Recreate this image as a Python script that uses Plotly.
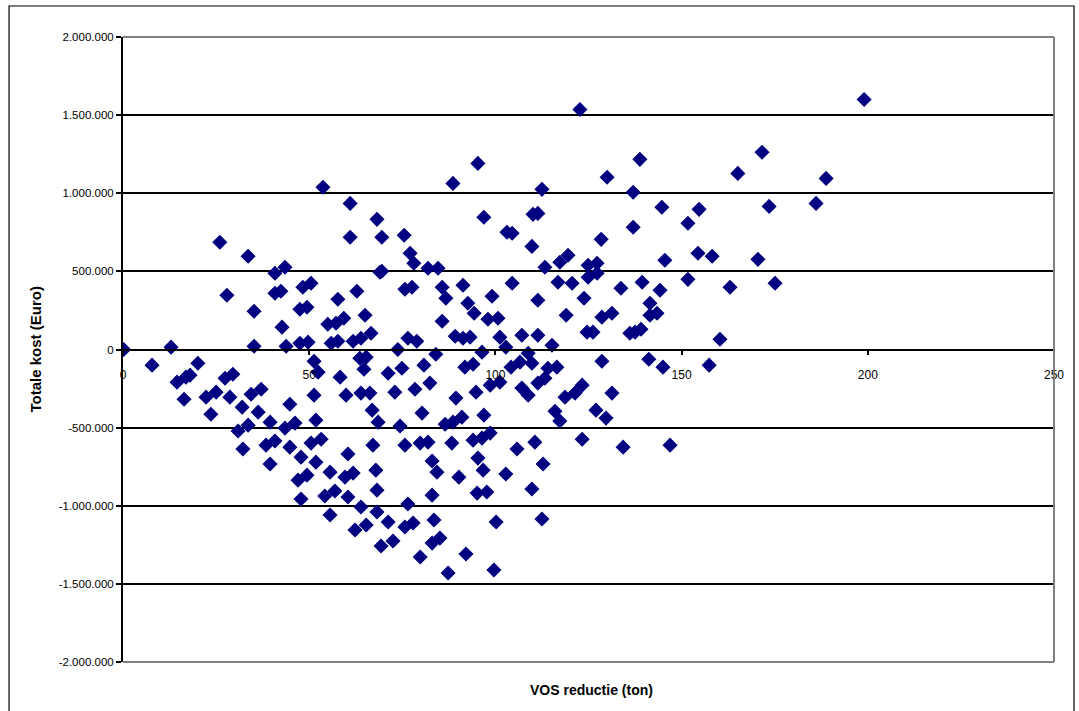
import plotly.graph_objects as go

# VOS reductie (ton) / Totale kost (Euro), grouped by region
vos_upper = [122.7, 199.0, 171.6, 138.8, 95.3, 130.0, 165.1, 188.8, 88.6, 112.5,
             53.7, 137.0, 186.1, 61.0, 144.7, 173.5, 154.7, 151.7, 96.9, 68.2,
             110.1, 111.4, 69.5, 75.5, 103.1, 104.5, 109.8, 128.4, 137.0, 77.1,
             119.5, 61.0, 26.0, 33.6, 154.4, 158.2]
kost_upper = [1536000, 1600000, 1262000, 1217000, 1191000, 1102000, 1127000, 1095000, 1063000, 1025000,
              1038000, 1006000, 935000, 935000, 910000, 916000, 897000, 808000, 846000, 833000,
              865000, 871000, 718000, 731000, 750000, 744000, 660000, 705000, 782000, 616000,
              603000, 718000, 686000, 597000, 616000, 597000]

vos_left = [40.8, 43.5, 69.0, 27.9, 40.8, 42.4, 48.3, 50.5, 57.7, 62.8,
            35.2, 47.5, 49.4, 55.0, 57.2, 59.3, 65.0, 42.7, 61.8, 63.9,
            66.6, 0.2, 12.9, 35.2, 43.8, 47.5, 49.7, 55.9, 57.7, 7.8,
            20.1, 14.5, 16.9, 18.0, 51.3, 52.4, 63.6, 65.3, 64.7, 27.4,
            29.5, 58.3, 16.4, 22.3, 25.0, 28.7, 34.4, 37.1, 32.0, 36.3,
            44.8, 51.3, 59.9, 63.9, 66.3, 23.6, 66.9]
kost_left = [488000, 526000, 494000, 347000, 360000, 373000, 398000, 424000, 322000, 373000,
             245000, 258000, 270000, 162000, 168000, 200000, 219000, 143000, 53000, 72000,
             104000, 0, 15000, 21000, 21000, 40000, 47000, 40000, 53000, -100000,
             -88000, -209000, -177000, -164000, -75000, -145000, -56000, -49000, -126000, -184000,
             -158000, -177000, -318000, -305000, -273000, -305000, -286000, -254000, -369000, -401000,
             -350000, -292000, -292000, -279000, -279000, -414000, -388000]

vos_lowleft = [30.9, 33.6, 39.5, 43.5, 46.2, 51.8, 32.2, 38.4, 40.8, 44.8,
               50.5, 53.2, 39.5, 47.8, 51.8, 60.4, 67.1, 55.6, 47.0, 49.4,
               59.6, 61.8, 67.9, 47.8, 54.2, 56.9, 60.4, 63.9, 68.2, 55.6,
               62.3, 65.3, 68.2, 69.3]
kost_lowleft = [-522000, -484000, -465000, -503000, -471000, -452000, -637000, -612000, -586000, -625000,
                -599000, -574000, -733000, -689000, -721000, -669000, -612000, -785000, -836000, -804000,
                -817000, -791000, -772000, -957000, -938000, -906000, -944000, -1008000, -900000, -1059000,
                -1155000, -1123000, -1040000, -1258000]

vos_mid = [78.1, 69.5, 81.9, 84.6, 113.3, 117.3, 124.9, 127.3, 124.9, 127.3,
           75.7, 77.6, 85.7, 91.3, 104.5, 116.8, 120.6, 133.7, 86.7, 99.1,
           111.4, 123.8, 92.6, 94.3, 98.0, 100.7, 119.0, 128.6, 131.3, 85.7,
           89.2, 91.3, 93.2, 76.5, 78.9, 101.2, 107.1, 111.4, 115.2, 124.6,
           126.2, 136.1, 73.8, 84.0, 96.4, 102.8, 108.8, 109.8, 114.1, 116.5,
           128.6, 71.2, 74.9, 80.8, 91.8, 94.0, 104.2, 106.6, 113.3, 73.0,
           78.4, 82.4, 98.6, 101.2, 107.1, 111.4, 123.3, 131.3, 89.4, 94.8,
           108.8, 118.7, 121.4, 80.3, 116.0, 127.0]
kost_mid = [552000, 501000, 520000, 520000, 526000, 558000, 539000, 552000, 462000, 488000,
            386000, 398000, 398000, 411000, 424000, 430000, 424000, 392000, 328000, 341000,
            315000, 328000, 296000, 232000, 194000, 200000, 219000, 207000, 232000, 181000,
            85000, 72000, 79000, 72000, 53000, 79000, 91000, 91000, 27000, 111000,
            111000, 104000, 0, -30000, -17000, 15000, -24000, -88000, -120000, -113000,
            -75000, -152000, -120000, -100000, -113000, -94000, -113000, -81000, -184000, -273000,
            -254000, -215000, -228000, -209000, -247000, -215000, -228000, -279000, -311000, -273000,
            -292000, -305000, -279000, -407000, -395000, -388000]

vos_right = [145.5, 170.5, 139.4, 151.7, 144.2, 163.0, 175.1, 141.5, 141.5, 143.4,
             137.5, 139.1, 160.3, 141.2, 145.0, 157.4]
kost_right = [571000, 577000, 430000, 449000, 379000, 398000, 424000, 296000, 219000, 232000,
              111000, 130000, 66000, -62000, -113000, -100000]

vos_low = [68.5, 74.4, 86.5, 88.6, 91.0, 96.9, 117.3, 129.7, 75.7, 79.8,
           81.9, 88.3, 94.0, 96.4, 98.6, 105.8, 110.6, 123.3, 134.3, 146.9,
           83.0, 84.3, 90.2, 95.3, 96.7, 102.8, 112.8, 83.0, 95.1, 97.7,
           109.8, 76.5, 71.2, 75.7, 77.9, 83.5, 100.2, 112.5, 72.5, 83.0,
           85.1, 79.8, 92.1, 87.3, 99.6]
kost_low = [-465000, -490000, -478000, -465000, -433000, -420000, -458000, -439000, -612000, -599000,
            -593000, -599000, -580000, -567000, -535000, -637000, -593000, -574000, -625000, -612000,
            -714000, -785000, -817000, -695000, -772000, -797000, -733000, -932000, -919000, -912000,
            -893000, -989000, -1104000, -1136000, -1110000, -1091000, -1104000, -1085000, -1226000, -1239000,
            -1207000, -1328000, -1309000, -1430000, -1411000]

x_ticks = [0, 50, 100, 150, 200, 250]
y_ticks = [-2000000, -1500000, -1000000, -500000, 0, 500000, 1000000, 1500000, 2000000]
y_ticktext = ["-2.000.000", "-1.500.000", "-1.000.000", "-500.000", "0",
              "500.000", "1.000.000", "1.500.000", "2.000.000"]

vos = vos_upper + vos_left + vos_lowleft + vos_mid + vos_right + vos_low
kost = kost_upper + kost_left + kost_lowleft + kost_mid + kost_right + kost_low

FONT = "Arial, Liberation Sans, sans-serif"
NAVY = "#000080"

fig = go.Figure()
fig.add_trace(go.Scatter(
    x=vos, y=kost, mode="markers",
    marker=dict(symbol="diamond", size=10, color=NAVY, line=dict(color=NAVY, width=1.5)),
    showlegend=False, hoverinfo="x+y",
))

fig.update_layout(
    width=1079, height=711,
    margin=dict(l=123, r=25, t=37, b=49),
    paper_bgcolor="white", plot_bgcolor="white",
    font=dict(family=FONT, color="black", size=11),
    xaxis=dict(
        range=[0, 250], tickvals=x_ticks, ticktext=[str(v) for v in x_ticks],
        anchor="free", position=0.5,
        showline=True, linecolor="black", linewidth=1.5,
        ticks="outside", ticklen=5, tickcolor="black", tickwidth=1.5,
        showgrid=False, zeroline=False,
        tickfont=dict(size=12, family=FONT, color="black"),
        ticklabelstandoff=9,
    ),
    yaxis=dict(
        range=[-2000000, 2000000], tickvals=y_ticks, ticktext=y_ticktext,
        showline=True, linecolor="black", linewidth=2,
        ticks="outside", ticklen=5, tickcolor="black", tickwidth=1.5,
        showgrid=True, gridcolor="black", gridwidth=1.5,
        zeroline=False,
        tickfont=dict(size=11.5, family=FONT, color="black"),
    ),
    shapes=[
        # plot area border (grey) on top, right, bottom
        dict(type="line", xref="x domain", yref="y domain", x0=0, x1=1, y0=1, y1=1,
             line=dict(color="#808080", width=2), layer="above"),
        dict(type="line", xref="x domain", yref="y domain", x0=1, x1=1, y0=0, y1=1,
             line=dict(color="#808080", width=2), layer="above"),
        dict(type="line", xref="x domain", yref="y domain", x0=0, x1=1, y0=0, y1=0,
             line=dict(color="#808080", width=2), layer="above"),
        # chart area border
        dict(type="rect", xref="paper", yref="paper",
             x0=-0.1224, x1=1.0215, y0=-0.0816, y1=1.0496,
             line=dict(color="black", width=1.2), fillcolor="rgba(0,0,0,0)"),
    ],
    annotations=[
        dict(text="<b>Totale kost (Euro)</b>", xref="paper", yref="paper",
             x=-0.0945, y=0.5, textangle=-90, showarrow=False,
             font=dict(size=15, family=FONT, color="black"),
             xanchor="center", yanchor="middle"),
        dict(text="<b>VOS reductie (ton)</b>", xref="paper", yref="paper",
             x=0.5027, y=-0.0448, showarrow=False,
             font=dict(size=14, family=FONT, color="black"),
             xanchor="center", yanchor="middle"),
    ],
)

fig.write_html("out.html", config={"displayModeBar": False},
               post_script="document.body.style.margin='0';document.body.style.overflow='hidden';")
